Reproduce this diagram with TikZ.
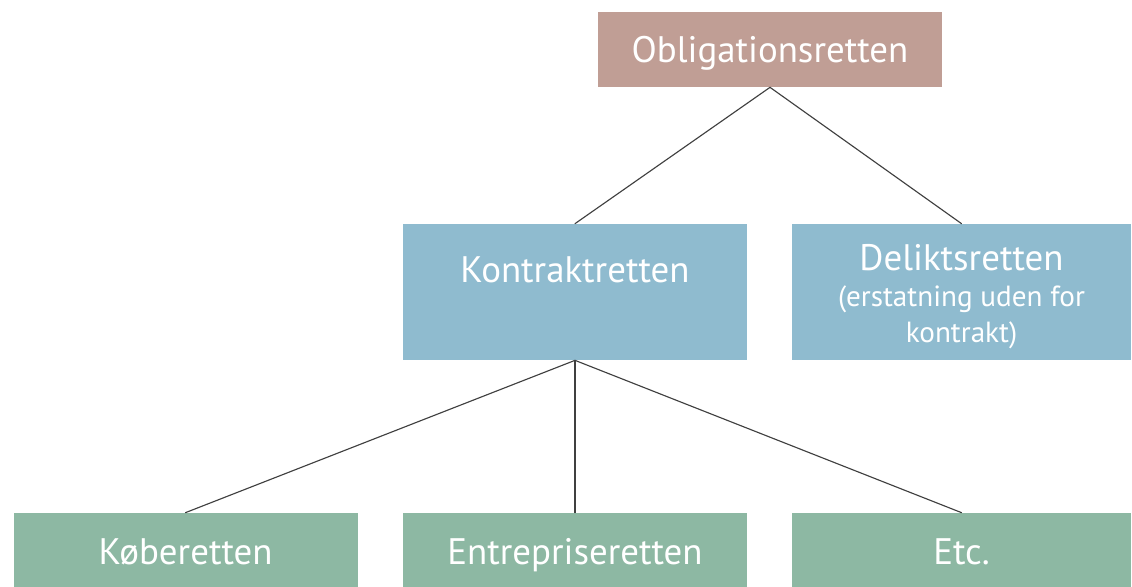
\documentclass[tikz,border=0pt]{standalone}
\usepackage{fontspec}
\setmainfont{PT Sans}
\newcommand{\smalltext}{\fontsize{16.6}{20.5}\selectfont}
\begin{document}
\begin{tikzpicture}[
    x=0.02cm,
    y=-0.02cm,
    line cap=round,
    line join=round,
    box/.style={inner sep=0pt,text=white,align=center,font=\fontsize{21}{26}\selectfont},
    top/.style={box,fill=topcol,minimum width=344*0.02cm,minimum height=75*0.02cm},
    mid/.style={box,fill=midcol,minimum height=136*0.02cm},
    low/.style={box,fill=lowcol,minimum width=344*0.02cm,minimum height=80*0.02cm,
                text height=13.6pt,text depth=0pt},
    link/.style={draw=linecol,line width=0.65pt}
]

\definecolor{topcol}{HTML}{C09E95}
\definecolor{midcol}{HTML}{8FBBCF}
\definecolor{lowcol}{HTML}{8DB8A3}
\definecolor{linecol}{HTML}{404040}

\useasboundingbox (0,0) rectangle (1132,587);
\clip (0,0) rectangle (1132,587);

% -------------------------------------------------
% Overste niveau
% -------------------------------------------------

\node[top,text height=15.3pt,text depth=0pt] (oblig) at (770,49.5) {Obligationsretten};

% -------------------------------------------------
% Mellemste niveau
% -------------------------------------------------

\node[mid,minimum width=344*0.02cm] (kontrakt) at (575,292)
    {\raisebox{25pt}{Kontraktretten}};
\node[mid,minimum width=339*0.02cm,font=\fontsize{21}{20.5}\selectfont] (delikt) at (961.5,292)
    {\rule{0pt}{20.5pt}Deliktsretten\\
     \smalltext (erstatning uden for\\
     \smalltext kontrakt)};

% -------------------------------------------------
% Nederste niveau
% -------------------------------------------------

\node[low] (kob)    at (185.5,553) {Køberetten};
\node[low] (entrep) at (575,553)   {Entrepriseretten};
\node[low,minimum width=339*0.02cm] (etc) at (961.5,553) {Etc.};

% -------------------------------------------------
% Forbindelser
% -------------------------------------------------

\draw[link] (oblig.south) -- (kontrakt.north);
\draw[link] (oblig.south) -- (delikt.north);

\draw[link] (kontrakt.south) -- (kob.north);
\draw[link] (kontrakt.south) -- (entrep.north);
\draw[link] (kontrakt.south) -- (etc.north);

\end{tikzpicture}
\end{document}
